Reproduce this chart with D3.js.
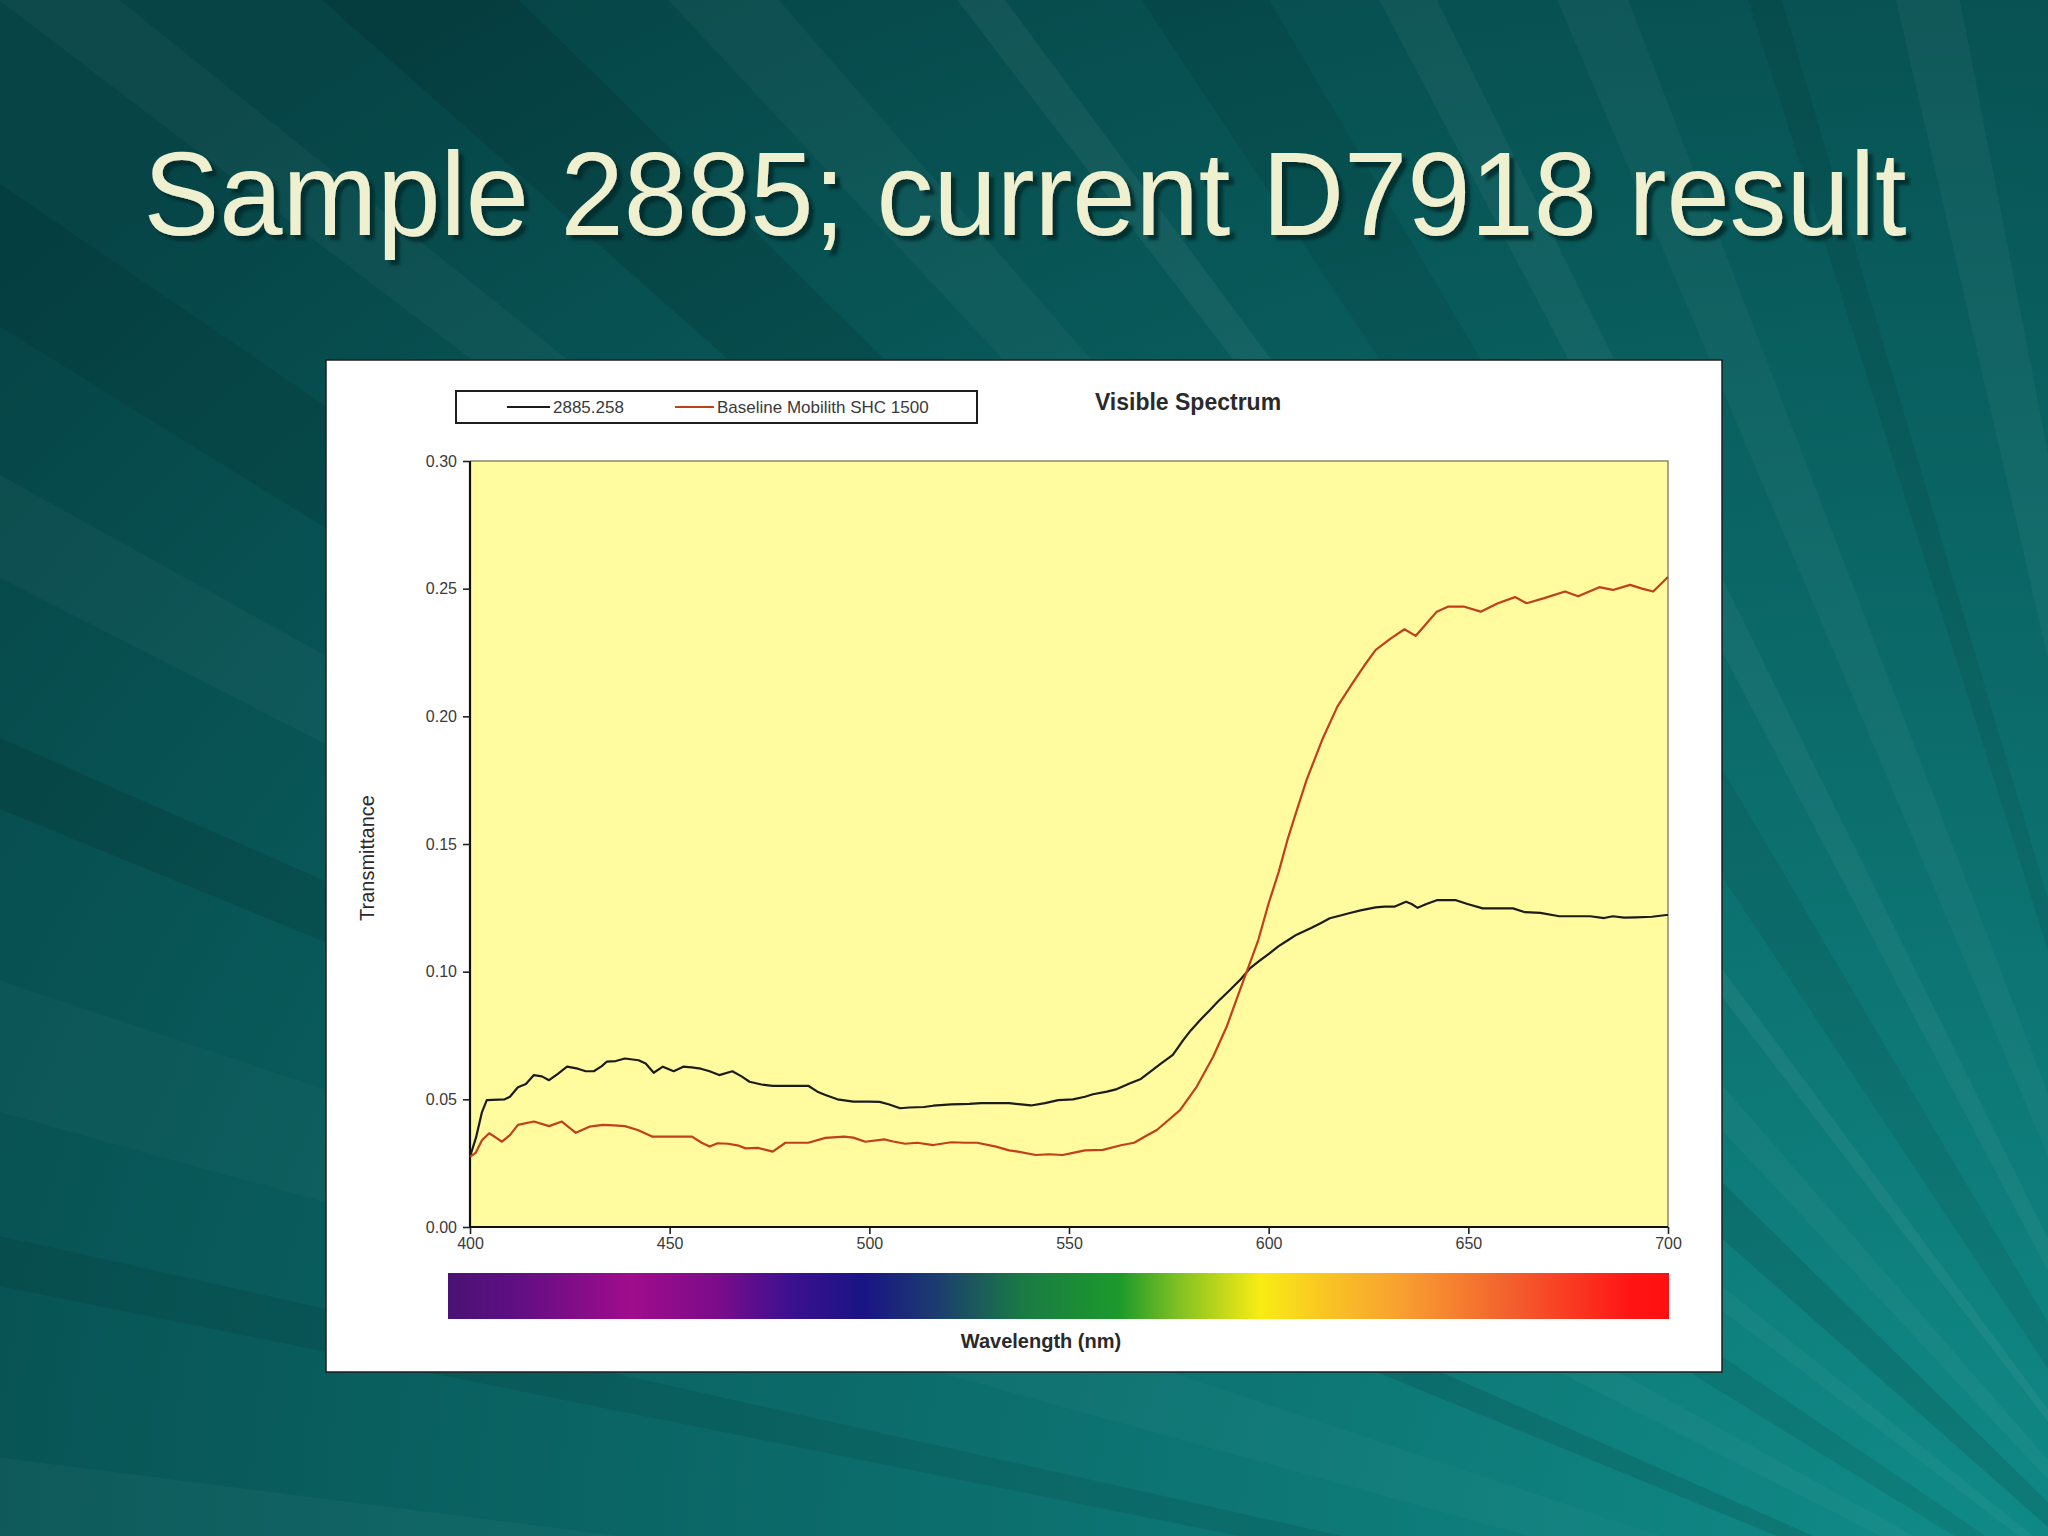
<!DOCTYPE html>
<html>
<head>
<meta charset="utf-8">
<script src="https://cdn.jsdelivr.net/npm/d3@7"></script>
<style>
  html, body { margin: 0; padding: 0; background: #0a5f60; }
  svg { display: block; }
</style>
</head>
<body>
<svg id="chart" width="2048" height="1536"></svg>
<script>
// ---------------- data ----------------
const slideTitle = "Sample 2885; current D7918 result";
const chartTitle = "Visible Spectrum";
const xAxisTitle = "Wavelength (nm)";
const yAxisTitle = "Transmittance";
const seriesNames = ["2885.258", "Baseline Mobilith SHC 1500"];
const xTicks = [400, 450, 500, 550, 600, 650, 700];
const yTicks = [0.00, 0.05, 0.10, 0.15, 0.20, 0.25, 0.30];

const sampleNm = [400,401.5,403,404.2,408.7,410,412,414,416,418,419.8,422,424.3,427,429,431,433,434.3,436.5,438.8,442.2,444,446,448.3,451,453.4,455.5,457.8,460,462.4,465.7,468,470,473,475.8,480,484.7,487,489,492,496,500,502.6,505,507.7,510,513.7,516,520.5,525,528,531.7,535,538,540.5,544,547.3,551,554,556,559.5,562,565.3,568,570.3,573,576,578.6,580.5,582.8,585,587.3,590.3,593,595.3,597.5,600.3,602.5,604.9,607,610.5,613,615.3,618,620.1,623,626.8,629,631.6,634.4,635.8,637.3,639.5,642.1,646.9,649.8,653.6,657,661.2,664.2,668,672.8,676,680.5,684,686.2,689,692,696,699.6,700];
const sampleT = [0.0275,0.035,0.045,0.0497,0.050,0.051,0.0547,0.056,0.0595,0.059,0.0575,0.060,0.0628,0.062,0.061,0.061,0.063,0.0648,0.065,0.066,0.0653,0.064,0.0604,0.0628,0.061,0.0628,0.0625,0.062,0.061,0.0595,0.061,0.059,0.0569,0.0558,0.0553,0.0553,0.0553,0.053,0.0517,0.050,0.0491,0.0491,0.049,0.048,0.0465,0.0468,0.047,0.0475,0.048,0.0482,0.0485,0.0485,0.0485,0.048,0.0476,0.0485,0.0497,0.050,0.051,0.052,0.053,0.054,0.0563,0.058,0.0608,0.064,0.0674,0.0732,0.077,0.081,0.0845,0.0883,0.0928,0.097,0.1013,0.104,0.1073,0.110,0.1124,0.1145,0.117,0.119,0.1209,0.122,0.1229,0.124,0.1252,0.1255,0.1255,0.1274,0.1265,0.125,0.1265,0.128,0.128,0.1265,0.1248,0.1248,0.1248,0.1233,0.123,0.1217,0.1217,0.1217,0.121,0.1217,0.1212,0.1213,0.1215,0.1222,0.1222];

const baseNm = [400,401.4,403,404.8,406.5,408,410,412,416,419.8,423,426.5,429.9,433.3,436,438.8,442,445.6,450,455.6,458,460,462,464.6,467,469,472,475.8,479,484.7,489,493.7,496,499,503.7,506,509,512,516,520.5,524,527,531.7,535,537.2,541.7,545,548.4,551,554,558.5,563,566.3,569.7,572,575,577.8,582,586.1,589.5,592.8,595.3,597.4,600,602.5,604.7,607,609.5,613.4,617.2,621,624,626.8,630.7,634,636.8,639.2,642.1,645,648.8,653.1,657.4,661.7,664.6,669,674.2,677.5,682.8,686.2,690.5,693.5,696.3,699.6,700];
const baseT = [0.0275,0.029,0.034,0.0367,0.035,0.0334,0.036,0.040,0.0413,0.0395,0.0413,0.0369,0.0393,0.040,0.0398,0.0395,0.038,0.0354,0.0354,0.0354,0.033,0.0315,0.0328,0.0326,0.032,0.0308,0.031,0.0295,0.033,0.033,0.0349,0.0354,0.035,0.0334,0.0343,0.0335,0.0326,0.033,0.0321,0.0332,0.033,0.033,0.0315,0.030,0.0295,0.0282,0.0285,0.0282,0.029,0.030,0.0302,0.032,0.033,0.036,0.038,0.042,0.0458,0.055,0.0667,0.0785,0.0928,0.1033,0.1124,0.1268,0.139,0.1516,0.163,0.1751,0.1908,0.2038,0.213,0.220,0.226,0.2306,0.2341,0.2315,0.2358,0.241,0.243,0.243,0.241,0.2443,0.2467,0.2443,0.2463,0.2489,0.247,0.2506,0.2495,0.2515,0.250,0.2489,0.254,0.2545];

// ---------------- styles / layout ----------------
const W = 2048, H = 1536;
const box = {x: 326, y: 360, w: 1396, h: 1012};
const plot = {l: 470, r: 1668, t: 461, b: 1227};
const lineColors = ["#1c1c1c", "#c0401c"];
const spectrumStops = [
  [0.00, "#4a1272"], [0.05, "#5c0f82"], [0.15, "#a00c8c"], [0.22, "#7c0c8a"],
  [0.28, "#3c1090"], [0.34, "#1a1484"], [0.40, "#1c3c70"], [0.47, "#1a7a44"],
  [0.55, "#1c9a2c"], [0.60, "#84c222"], [0.665, "#f8ec14"], [0.72, "#f8c424"],
  [0.78, "#f8a030"], [0.87, "#f2602e"], [0.97, "#ff1414"], [1.00, "#ff1010"]
];
// decorative background rays: [angle deg, width deg, colour, opacity]
const rays = [
  [-174, 2.5, "#ffffff", 0.03], [-168, 1.2, "#000000", 0.08], [-163, 3, "#ffffff", 0.025],
  [-157, 1.5, "#000000", 0.10], [-152, 2, "#ffffff", 0.03], [-147, 2.5, "#000000", 0.08],
  [-142, 1.5, "#ffffff", 0.035], [-137, 3, "#000000", 0.10], [-132, 2, "#ffffff", 0.035],
  [-127, 1, "#ffffff", 0.05], [-122, 3, "#000000", 0.07], [-117, 1.5, "#ffffff", 0.045],
  [-112, 2, "#ffffff", 0.035], [-107, 1, "#000000", 0.07], [-102, 2, "#ffffff", 0.04]
];

const svg = d3.select("#chart");
const defs = svg.append("defs");

// background
const bg = defs.append("radialGradient").attr("id", "bgGrad")
  .attr("cx", "95%").attr("cy", "100%").attr("r", "125%");
bg.append("stop").attr("offset", "0%").attr("stop-color", "#108a87");
bg.append("stop").attr("offset", "45%").attr("stop-color", "#0b6a69");
bg.append("stop").attr("offset", "100%").attr("stop-color", "#064446");
svg.append("rect").attr("width", W).attr("height", H).attr("fill", "url(#bgGrad)");

const F = [2300, 1750], R = 4200;
svg.append("g").selectAll("path").data(rays).join("path")
  .attr("d", d => {
    const a1 = (d[0] - d[1] / 2) * Math.PI / 180, a2 = (d[0] + d[1] / 2) * Math.PI / 180;
    return `M${F[0]},${F[1]}L${F[0] + R * Math.cos(a1)},${F[1] + R * Math.sin(a1)}L${F[0] + R * Math.cos(a2)},${F[1] + R * Math.sin(a2)}Z`;
  })
  .attr("fill", d => d[2]).attr("opacity", d => d[3]);

// slide title with drop shadow
const shadow = defs.append("filter").attr("id", "shadow")
  .attr("x", "-5%").attr("y", "-20%").attr("width", "110%").attr("height", "140%");
shadow.append("feDropShadow").attr("dx", 5).attr("dy", 5).attr("stdDeviation", 1.5)
  .attr("flood-color", "#05292b").attr("flood-opacity", 0.85);
const titleFont = "'Liberation Sans', Arial, sans-serif";
svg.append("text")
  .attr("x", 1025).attr("y", 235)
  .attr("text-anchor", "middle")
  .attr("font-family", titleFont).attr("font-size", 119)
  .attr("textLength", 1763).attr("lengthAdjust", "spacingAndGlyphs")
  .attr("fill", "#eef0d0").attr("filter", "url(#shadow)")
  .text(slideTitle);

// chart box
svg.append("rect").attr("x", box.x).attr("y", box.y).attr("width", box.w).attr("height", box.h)
  .attr("fill", "#ffffff").attr("stroke", "#1e1e1e").attr("stroke-width", 1.5);

// scales
const x = d3.scaleLinear().domain([400, 700]).range([plot.l, plot.r]);
const y = d3.scaleLinear().domain([0, 0.30]).range([plot.b, plot.t]);

// plot area
svg.append("rect").attr("x", plot.l).attr("y", plot.t)
  .attr("width", plot.r - plot.l).attr("height", plot.b - plot.t)
  .attr("fill", "#fffb9e");
svg.append("path")
  .attr("d", `M${plot.l},${plot.t}H${plot.r}V${plot.b}`)
  .attr("fill", "none").attr("stroke", "#8a8a70").attr("stroke-width", 1.5);

const chartFont = "'Liberation Sans', Arial, sans-serif";

// axes
const yAxis = svg.append("g").attr("transform", `translate(${plot.l},0)`)
  .call(d3.axisLeft(y).tickValues(yTicks).tickFormat(d3.format(".2f")).tickSize(7).tickPadding(6));
const xAxis = svg.append("g").attr("transform", `translate(0,${plot.b})`)
  .call(d3.axisBottom(x).tickValues(xTicks).tickFormat(d3.format("d")).tickSize(7).tickPadding(4));
[yAxis, xAxis].forEach(g => {
  g.select(".domain").attr("stroke", "#111").attr("stroke-width", 2.2);
  g.selectAll(".tick line").attr("stroke", "#222").attr("stroke-width", 1.6);
  g.selectAll(".tick text").attr("font-family", chartFont).attr("font-size", 16).attr("fill", "#3a3a3a");
});
yAxis.select(".domain").attr("d", `M0,${plot.b}V${plot.t}`);
xAxis.select(".domain").attr("d", `M${plot.l},0H${plot.r}`);

// series lines
const line = d3.line().x(d => x(d[0])).y(d => y(d[1]));
const series = [
  d3.zip(sampleNm, sampleT),
  d3.zip(baseNm, baseT)
];
svg.append("g").selectAll("path").data(series).join("path")
  .attr("d", line)
  .attr("fill", "none")
  .attr("stroke", (d, i) => lineColors[i])
  .attr("stroke-width", 2.2)
  .attr("stroke-linejoin", "round");

// chart title
svg.append("text").attr("x", 1188).attr("y", 410).attr("text-anchor", "middle")
  .attr("font-family", chartFont).attr("font-weight", "bold").attr("font-size", 23)
  .attr("fill", "#2a2a2a").text(chartTitle);

// y axis title
svg.append("text").attr("transform", "translate(374,858) rotate(-90)")
  .attr("text-anchor", "middle")
  .attr("font-family", chartFont).attr("font-size", 20).attr("fill", "#2a2a2a")
  .text(yAxisTitle);

// spectrum colour bar
const sg = defs.append("linearGradient").attr("id", "spec")
  .attr("x1", "0%").attr("x2", "100%").attr("y1", "0%").attr("y2", "0%");
sg.selectAll("stop").data(spectrumStops).join("stop")
  .attr("offset", d => d[0]).attr("stop-color", d => d[1]);
svg.append("rect").attr("x", 448).attr("y", 1273).attr("width", 1221).attr("height", 46)
  .attr("fill", "url(#spec)");

// x axis title
svg.append("text").attr("x", 1041).attr("y", 1348).attr("text-anchor", "middle")
  .attr("font-family", chartFont).attr("font-weight", "bold").attr("font-size", 20)
  .attr("fill", "#2a2a2a").text(xAxisTitle);

// legend
svg.append("rect").attr("x", 456).attr("y", 391).attr("width", 521).attr("height", 32)
  .attr("fill", "#ffffff").attr("stroke", "#1e1e1e").attr("stroke-width", 2);
const legendX = [[507, 550, 553], [675, 714, 717]];
const lg = svg.append("g").selectAll("g").data(seriesNames).join("g");
lg.append("line")
  .attr("x1", (d, i) => legendX[i][0]).attr("x2", (d, i) => legendX[i][1])
  .attr("y1", 407).attr("y2", 407)
  .attr("stroke", (d, i) => lineColors[i]).attr("stroke-width", 2);
lg.append("text")
  .attr("x", (d, i) => legendX[i][2]).attr("y", 407).attr("dy", "0.35em")
  .attr("font-family", chartFont).attr("font-size", 17).attr("fill", "#3a3a3a")
  .text(d => d);
</script>
</body>
</html>
